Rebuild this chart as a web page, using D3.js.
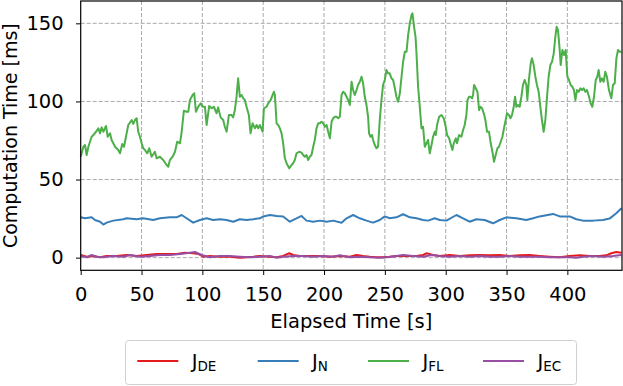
<!doctype html>
<html lang="en">
<head>
  <meta charset="utf-8">
  <title>Computation Time</title>
  <script src="https://d3js.org/d3.v7.min.js"></script>
  <style>
    body { margin: 0; background: #fff; }
    svg text { font-family: "DejaVu Sans", sans-serif; fill: #000; }
  </style>
</head>
<body>
  <div id="chart"></div>
<script>
  // [elapsed time s, computation time ms]
  var j_de = [[0,1.7],[4.9,0.6],[10.4,1.1],[15.9,0.2],[21.3,1.1],[29.5,1.1],[37.7,1.7],[46,1.1],[54.2,1.7],
    [62.4,2.4],[70.6,2.4],[78.8,2.4],[85.7,3.2],[92.5,2.8],[96.6,2.4],[100.7,0.6],[106.2,1.1],[114.4,0.6],
    [122.6,0.6],[130.8,0],[136.3,0.2],[141.8,0.6],[147.3,1.1],[155.5,0.6],[161,0.2],[166.4,1.1],[171.4,2.8],
    [174.6,1.7],[180.1,1.1],[188.3,1.1],[196.6,1.1],[204.8,0.6],[213,1.1],[221.2,0.6],[226.7,1.7],[232.1,1.1],
    [237.6,0.6],[243.1,0.2],[248.5,0.2],[254,0.6],[259.5,1.1],[265,1.1],[270.5,1.1],[276,1.1],[281.4,1.7],
    [284.2,2.8],[289.6,1.7],[295.1,1.1],[303.3,1.7],[311.5,1.1],[319.7,1.5],[327.9,1.7],[336.2,1.5],[344.4,1.7],
    [352.6,1.1],[360.8,1.5],[369,1.7],[377.2,1.1],[385.5,0.6],[393.7,0.2],[401.9,1.1],[410.1,1.5],[418.3,1.1],
    [426.5,1.1],[432,1.5],[436.1,2.8],[440.2,3.6],[444.4,3.2]];

  var j_n = [[0,25.8],[3.5,25.2],[9,25.8],[11.7,24.1],[15.9,23],[18.6,21.2],[21.3,22.4],[26.8,23.7],[35,24.6],
    [37.7,25.2],[46,24.6],[51.4,25.2],[59.6,24.1],[65.1,25.2],[73.3,25.8],[78.8,25.8],[83,27.3],[87,25.2],
    [92.5,22.4],[98,24.1],[103.5,25.2],[108.9,24.1],[114.4,24.6],[119.9,24.1],[125.4,23],[130.8,24.6],
    [136.3,24.1],[141.8,24.6],[147.3,25.2],[150,26.4],[155.5,27.3],[161,26.7],[166.4,26.4],[171.9,23],
    [177.4,25.2],[181.5,26.7],[185.6,23.7],[191.1,23],[196.6,23.7],[202.1,23],[207.5,23.7],[214.4,22.4],
    [218.5,25.2],[223.9,27.3],[229.4,25.2],[234.9,23.7],[240.3,22.4],[245.8,24.1],[249.9,26.4],[254,25.2],
    [259.5,25.8],[265,27.8],[270.5,25.8],[276,25.2],[281.4,24.1],[285.5,23.7],[291,25.2],[295.1,24.1],
    [300.6,23.7],[308.8,27.3],[314.3,25.2],[319.7,23],[325.2,24.6],[332,24.1],[338.9,22],[344.4,24.1],
    [349.8,25.8],[358.1,25.2],[366.3,24.1],[371.8,25.2],[377.2,26.4],[388.2,28],[393.7,26.4],[401.9,26.4],
    [407.4,24.6],[412.8,23.7],[421.1,23.7],[429.3,24.1],[434.7,25],[440.2,28.4],[444.4,31.6]];

  var j_fl = [[0,64.6],[2.2,71],[3.5,72.1],[4.9,65.7],[6.3,71],[9,77.4],[10.4,78.5],[12.6,80.6],[14.5,82.8],
    [15.9,79.6],[17.2,83.4],[18.6,80.6],[20.8,84.3],[22.2,77.4],[24.1,79.6],[25.4,75.3],[26.8,73.2],[28.2,71],
    [30.9,68.9],[32.3,66.8],[34.2,72.8],[35.6,71],[37.2,77.4],[39.1,84.9],[41.9,88.1],[43.2,85.6],[44.6,88.1],
    [46,89.2],[47.3,80.6],[48.7,77.4],[50.1,73.2],[51.4,70],[52.8,68.9],[54.7,66.8],[56.3,70],[58.3,64.6],
    [61,67.8],[62.4,63.6],[65.1,64.6],[67.8,62.5],[70.6,59.3],[72,58.2],[73.3,62.5],[75.5,64.6],[77.5,67.8],
    [79.3,74.2],[81.6,73.2],[83,80.6],[84.8,94.1],[87,93.4],[88.4,93.4],[89.8,100.9],[92,104.1],[93.3,105.2],
    [94.7,93.4],[96.6,96.6],[98.6,98.8],[100.2,96.6],[102.1,96.6],[103.5,84.9],[105.6,97.1],[107.6,95.6],
    [109.5,96.6],[111.7,92.4],[113,96.2],[115,89.8],[117.1,88.1],[118.5,83.8],[119.9,80.6],[121.8,91.3],
    [124,91.3],[125.3,89.8],[126.7,94.5],[128.1,103],[129.4,114.8],[130.8,103],[132.2,104.1],[133.6,102],
    [134.9,100.9],[136.3,96.6],[138.2,91.3],[139.6,79.6],[141.3,86],[143.2,82.8],[144.6,84.9],[145.9,82.8],
    [147.3,84.9],[149.5,80.6],[150.6,95.6],[152.8,96.6],[154.1,98.8],[156.1,100.9],[157.7,104.1],[158.8,106.2],
    [159.6,104.1],[161,86],[162.3,84.9],[163.7,82.8],[165.1,79.6],[166.4,73.2],[167.8,63.6],[169.2,60.4],
    [171.4,57.2],[173.3,59.3],[174.6,60.4],[176,62.5],[177.4,66.8],[179.6,67.8],[181.5,67.2],[182.8,65.7],
    [184.2,64.6],[185.6,65.7],[186.9,62.5],[188.3,64.6],[189.7,65.7],[191.1,71],[192.4,75.3],[193.8,82.8],
    [195.2,86],[196.6,86],[197.9,87],[199.3,86],[200.7,83.8],[202.1,84.9],[203.4,80.6],[204.8,76.4],[206.2,87],
    [207.5,89.2],[208.9,90.2],[210.3,90.2],[211.6,89.2],[213,90.2],[214.4,104.1],[215.7,106.2],[217.1,105.2],
    [218.5,103],[219.8,100.9],[221.2,97.7],[222.6,112.6],[223.9,107.3],[225.3,104.1],[226.7,107.3],[228,110.5],
    [229.4,112.6],[230.8,115.8],[232.1,111.6],[233.5,103],[234.9,97.7],[236.2,90.2],[237,79.6],[238.2,77.4],
    [239.5,78.5],[240.3,75.3],[241.7,72.1],[243.1,70],[244.4,71],[245.8,88.1],[247.2,100.9],[248.5,110.5],
    [249.9,113.7],[251.3,120.1],[252.6,118],[254,118],[255.4,114.8],[256.8,113.7],[258.2,108.4],[259.5,103],
    [260.9,99.8],[262.3,105.2],[263.7,115.8],[265,125.4],[266.4,131.8],[267.8,131.8],[269.1,142.5],[270.5,150],
    [271.9,155.3],[272.7,156.4],[273.8,148.9],[275.2,141.4],[276,130.8],[277.3,109.4],[278.7,96.6],[280.1,82.8],
    [281.4,83.8],[282.8,71],[284.2,73.2],[285.5,75.3],[286.9,66.8],[288.3,72],[289.6,77.4],[291,80.6],
    [291.8,78.5],[292.9,84.9],[294.6,90.2],[296.5,91.3],[298.4,89.2],[300,83.8],[301.1,78.5],[302.8,76.4],
    [303.9,73.2],[305.5,68.9],[306.6,73.2],[308.3,76.4],[309.3,73.2],[311,78.5],[312.9,77.4],[314.3,81.7],
    [315.6,84.9],[317,91.3],[317.9,100.9],[319.2,103],[320.3,103],[321.7,102],[322.5,104.1],[323.3,110.5],
    [324.7,108.4],[326.1,106.2],[327.4,94.5],[328.5,96.6],[329.9,95.6],[331.3,92.4],[332.6,88.1],[334,80.6],
    [335.6,80.6],[337,73.2],[338.4,67.8],[339.7,61.4],[341.1,65.7],[342.5,70],[343.8,71],[345.2,74.2],
    [346.6,77.4],[347.9,82.8],[349.3,88.1],[350.4,92.4],[352,91.3],[353.2,89.2],[354.5,91.3],[355.9,96.6],
    [357,103],[358.1,96.6],[359.4,97.7],[360.8,96.6],[362.2,103],[363.5,110.5],[364.9,113.7],[366.3,110.5],
    [367.1,100.9],[368.5,114.8],[369.9,124.4],[370.9,127.6],[372.3,123.3],[373.7,115.8],[375,110.5],
    [376.4,106.2],[378.1,94.5],[379.1,88.1],[380.5,80.6],[381.9,88.1],[383.3,103],[384.6,115.8],[386,123.3],
    [387.4,125.4],[388.8,130.8],[390.1,141.4],[391.2,147.8],[392.3,145.7],[393.7,132.9],[394.5,123.3],
    [395.9,132.9],[397.2,129.7],[398.6,132.9],[400,115.8],[401.3,113.7],[402.7,110.5],[404.1,109.4],
    [405.4,107.3],[406.6,100.9],[407.9,107.3],[409.3,106.2],[410.7,108.4],[412,107.3],[413.4,108.4],
    [414.8,106.2],[416.1,107.3],[417.8,103],[419.1,98.8],[420.5,96.6],[421.9,103],[423.3,113.7],[424.6,115.8],
    [425.7,120.1],[427.1,112.6],[428.4,114.8],[429.8,112.6],[431.2,119],[432.5,115.8],[434.2,107.3],[436.1,102],
    [437.5,110.5],[438.9,111.6],[440.3,127.6],[441.6,132.9],[443,131.8],[444.4,131.8]];

  var j_ec = [[0,1.1],[4.9,0.2],[9,1.7],[13.1,0.6],[18.6,0.2],[26.8,1.1],[35,0.6],[40.5,1.7],[48.7,0.6],
    [56.9,1.1],[65.1,1.7],[73.3,1.7],[81.6,2.4],[89.8,3.2],[93.9,3.6],[99.4,1.7],[106.2,0.2],[114.4,1.1],
    [122.6,1.1],[130.8,0.6],[139.1,0.2],[147.3,0.6],[155.5,1.1],[161,0],[166.4,0.6],[174.6,1.1],[182.8,1.1],
    [191.1,0.6],[199.3,1.1],[207.5,0.6],[213,1.5],[221.2,0.2],[229.4,0.6],[237.6,0.2],[245.8,0],[251.3,0.2],
    [259.5,1.1],[265,1.7],[273.2,1.1],[281.4,0.6],[288.3,1.7],[295.1,1.1],[303.3,0.6],[311.5,1.1],[319.7,0.6],
    [327.9,1.1],[336.2,0.6],[344.4,0.6],[352.6,1.1],[360.8,0.6],[369,0.6],[377.2,0.6],[385.5,0.2],[393.7,0.2],
    [401.9,0.2],[407.4,0],[412.8,0.6],[421.1,1.1],[429.3,0.6],[437.5,1.1],[444.4,1.7]];

  var series_data = [j_de, j_n, j_fl, j_ec];
  var series_subs = ['DE', 'N', 'FL', 'EC'];
  var x_ticks = [0, 50, 100, 150, 200, 250, 300, 350, 400];
  var y_ticks = [0, 50, 100, 150];
  var x_max = 444.9;
  var y_min = -8.1;
  var y_max = 164.3;

  var colors = ['#e41a1c', '#377eb8', '#4daf4a', '#984ea3'];

  var width = 623;
  var height = 386;
  var plot_left = 80.7, plot_right = 622, plot_top = 1, plot_bottom = 270.3;
  var font_size = 19.5;

  var x = d3.scaleLinear().domain([0, x_max]).range([plot_left, plot_right]);
  var y = d3.scaleLinear().domain([y_min, y_max]).range([plot_bottom, plot_top]);

  var svg = d3.select('#chart').append('svg')
    .attr('width', width)
    .attr('height', height)
    .style('display', 'block')
    .style('background', '#fff');

  // grid
  var grid = svg.append('g').attr('stroke', '#a0a0a0').attr('stroke-width', 0.9)
    .attr('stroke-dasharray', '4,2');
  grid.selectAll('.gx').data(x_ticks.slice(1)).enter().append('line')
    .attr('x1', d => x(d)).attr('x2', d => x(d))
    .attr('y1', plot_top).attr('y2', plot_bottom);
  grid.selectAll('.gy').data(y_ticks).enter().append('line')
    .attr('x1', plot_left).attr('x2', plot_right)
    .attr('y1', d => y(d)).attr('y2', d => y(d));

  // series
  var line = d3.line().x(d => x(d[0])).y(d => y(d[1]));
  svg.append('g').selectAll('path')
    .data(series_data)
    .enter().append('path')
      .attr('d', line)
      .attr('fill', 'none')
      .attr('stroke', (d, i) => colors[i])
      .attr('stroke-width', 2)
      .attr('stroke-linejoin', 'round');

  // axes
  var x_axis = svg.append('g')
    .attr('transform', 'translate(0,' + plot_bottom + ')')
    .call(d3.axisBottom(x).tickValues(x_ticks).tickSize(4.7).tickPadding(12));
  var y_axis = svg.append('g')
    .attr('transform', 'translate(' + plot_left + ',0)')
    .call(d3.axisLeft(y).tickValues(y_ticks).tickSize(4.7).tickPadding(12.3));
  [x_axis, y_axis].forEach(function(a) {
    a.select('.domain').remove();
    a.selectAll('line').attr('stroke', '#000').attr('stroke-width', 1);
    a.selectAll('text').style('font-size', font_size + 'px').attr('font-family', null);
  });

  // frame
  svg.append('rect')
    .attr('x', plot_left).attr('y', plot_top)
    .attr('width', plot_right - plot_left).attr('height', plot_bottom - plot_top)
    .attr('fill', 'none').attr('stroke', '#000').attr('stroke-width', 1.2);

  svg.append('text')
    .attr('x', (plot_left + plot_right) / 2).attr('y', 327.5)
    .attr('text-anchor', 'middle')
    .style('font-size', font_size + 'px')
    .text('Elapsed Time [s]');

  svg.append('text')
    .attr('transform', 'translate(17,' + (plot_top + plot_bottom) / 2 + ') rotate(-90)')
    .attr('text-anchor', 'middle')
    .style('font-size', '19px')
    .text('Computation Time [ms]');

  // legend
  var legend = svg.append('g');
  legend.append('rect')
    .attr('x', 125.5).attr('y', 340.5)
    .attr('width', 451).attr('height', 44)
    .attr('rx', 3)
    .attr('fill', '#fff').attr('stroke', '#d0d0d0').attr('stroke-width', 1);
  var item_x = [137.3, 257.7, 368, 483];
  var items = legend.selectAll('.item').data(series_subs).enter().append('g')
    .attr('transform', (d, i) => 'translate(' + item_x[i] + ',361)');
  items.append('line')
    .attr('x1', 0).attr('x2', 41)
    .attr('stroke', (d, i) => colors[i])
    .attr('stroke-width', 2);
  var lt = items.append('text')
    .attr('x', 54.4).attr('y', 6.5)
    .style('font-size', font_size + 'px');
  lt.append('tspan').text('J');
  lt.append('tspan').attr('dy', 3).style('font-size', '13.5px').text(d => d);
</script>
</body>
</html>
